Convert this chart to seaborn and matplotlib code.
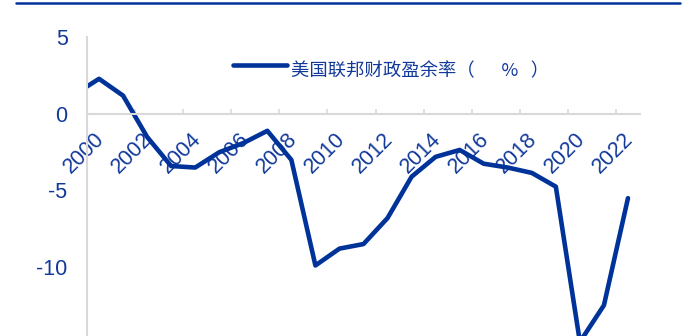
import matplotlib
matplotlib.use("Agg")
import matplotlib.pyplot as plt
from matplotlib.lines import Line2D
from matplotlib.transforms import ScaledTranslation
import seaborn as sns
import pandas as pd

# ---- data ----
years = list(range(1999, 2023))
surplus = [1.3, 2.3, 1.2, -1.5, -3.4, -3.5, -2.5, -1.9, -1.1, -3.0,
           -9.9, -8.8, -8.5, -6.8, -4.1, -2.8, -2.35, -3.25, -3.5, -3.85,
           -4.75, -14.9, -12.5, -5.5]
series_name = "美国联邦财政盈余率（\u3000  %   ）"
label_years = list(range(2000, 2023, 2))
y_ticks = [5, 0, -5, -10]

df = pd.DataFrame({"year": years, "value": surplus})

sns.set_style("white")
plt.rcParams["font.family"] = ["Liberation Sans", "Noto Sans CJK SC", "DejaVu Sans"]

LINE = "#003399"
TEXT = "#12399A"
GRID = "#D9D9D9"

fig = plt.figure(figsize=(6.89, 3.36), dpi=100)
ax = fig.add_axes([87/689, -0.0223, 553/689, 0.9107])

sns.lineplot(data=df, x="year", y="value", ax=ax, color=LINE, linewidth=3.3,
             label=series_name, clip_on=True)

ax.set_xlim(1999.5, 2022.5)
ax.set_ylim(-15, 5)
ax.set_xlabel("")
ax.set_ylabel("")

for s in ["top", "right"]:
    ax.spines[s].set_visible(False)
ax.spines["left"].set_color(GRID)
ax.spines["left"].set_linewidth(1.5)
ax.spines["bottom"].set_color(GRID)
ax.spines["bottom"].set_linewidth(1.5)
ax.spines["bottom"].set_position(("data", 0))
ax.spines["left"].set_bounds(-15, 5)

# y axis
ax.set_yticks(y_ticks)
ax.set_yticklabels([str(v) for v in y_ticks])
ax.tick_params(axis="y", direction="out", length=3, width=1.2, color=GRID,
               labelsize=15.5, labelcolor=TEXT, pad=11)

# x axis labels (major ticks carry labels only)
ax.set_xticks(label_years)
ax.set_xticklabels([str(y) for y in label_years], rotation=45, ha="right",
                   va="top", rotation_mode="anchor")
ax.tick_params(axis="x", which="major", length=0, labelsize=15.5,
               labelcolor=TEXT, pad=10.6)
shift = ScaledTranslation(-5/100, 0, fig.dpi_scale_trans)
for lab in ax.get_xticklabels():
    lab.set_transform(lab.get_transform() + shift)

# tick marks at category boundaries
ax.set_xticks([y + 0.5 for y in range(1999, 2023)], minor=True)
ax.tick_params(axis="x", which="minor", direction="in", length=3.8,
               width=1.2, color=GRID)
sec = ax.secondary_xaxis(0.75)
sec.set_xticks([y + 0.5 for y in range(2001, 2022, 2)])
sec.set_xticklabels([])
sec.tick_params(direction="out", length=3.8, width=1.2, color=GRID)
for s in sec.spines.values():
    s.set_visible(False)

# legend
leg = ax.legend(loc="center left", bbox_to_anchor=(233/689, 1 - 66/336),
                bbox_transform=fig.transFigure, frameon=False, borderpad=0,
                borderaxespad=0, handlelength=2.95, handletextpad=0.2,
                prop={"family": ["Noto Sans CJK SC", "Liberation Sans"], "size": 13.2})
down = ScaledTranslation(0, -5.5/100, fig.dpi_scale_trans)
for t in leg.get_texts():
    t.set_color(TEXT)
    t.set_transform(t.get_transform() + down)
for h in leg.get_lines():
    h.set_linewidth(3.3)

# top rule
fig.add_artist(Line2D([16/689, 680/689], [1 - 3/336, 1 - 3/336],
                      transform=fig.transFigure, color=LINE, linewidth=1.8))

fig.savefig("out.png", dpi=100)
